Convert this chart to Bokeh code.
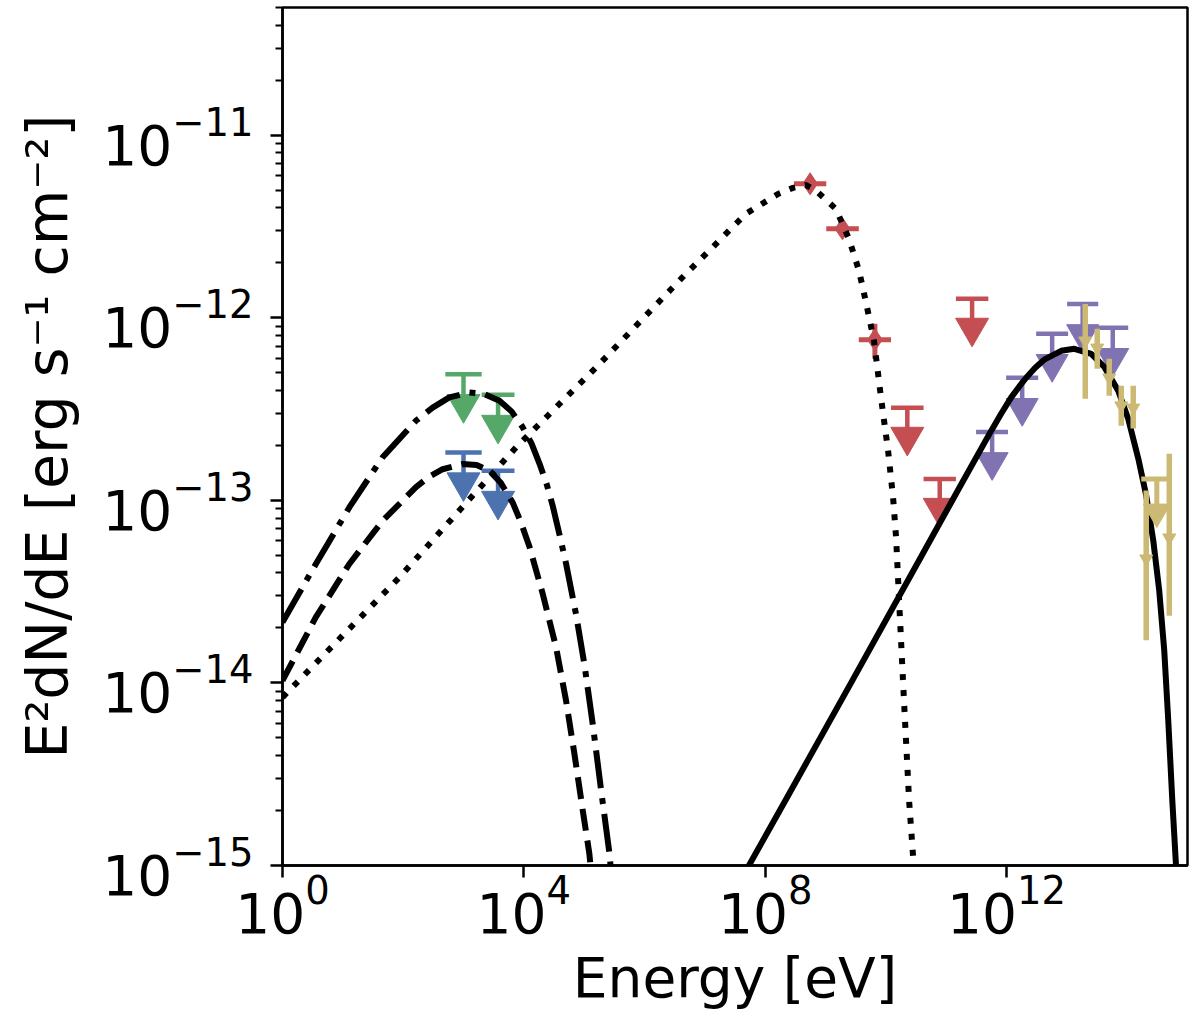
from bokeh.plotting import figure
from bokeh.models import FixedTicker, Range1d
from bokeh.embed import file_html
from bokeh.resources import INLINE

# ---------------- data ----------------
# model curves (energy in eV, E^2 dN/dE in erg s^-1 cm^-2)
dashdot_E = [1.0, 3.57, 12.8, 45.6, 163, 308, 583, 1250, 2160, 3940, 6300, 9580, 1.35e4,
             1.83e4, 2.40e4, 3.01e4, 3.94e4, 5.01e4, 7.34e4, 1.01e5, 1.39e5, 1.91e5,
             2.63e5, 2.87e5]
dashdot_F = [2.15e-14, 4.48e-14, 9.14e-14, 1.72e-13, 2.73e-13, 3.22e-13, 3.66e-13, 3.90e-13,
             3.83e-13, 3.51e-13, 3.06e-13, 2.51e-13, 2.04e-13, 1.58e-13, 1.22e-13, 9.33e-14,
             6.40e-14, 4.50e-14, 2.37e-14, 1.26e-14, 5.92e-15, 2.58e-15, 1.16e-15, 8.3e-16]

dashed_E = [1.0, 3.57, 12.8, 45.6, 163, 272, 451, 969, 1650, 2690, 4130, 6540, 8870,
            1.24e4, 2.06e4, 3.42e4, 5.01e4, 6.90e4, 9.48e4, 1.22e5, 1.34e5]
dashed_F = [1.03e-14, 2.29e-14, 4.48e-14, 7.73e-14, 1.18e-13, 1.35e-13, 1.48e-13, 1.58e-13,
            1.56e-13, 1.45e-13, 1.25e-13, 9.71e-14, 7.64e-14, 5.57e-14, 3.07e-14, 1.57e-14,
            8.0e-15, 4.08e-15, 2.0e-15, 1.16e-15, 8.3e-16]

dotted_E = [1.0, 86.3, 7410, 1.68e5, 4.01e6, 4.80e7, 1.63e8, 2.89e8, 4.74e8, 6.80e8, 9.44e8,
            1.49e9, 2.45e9, 3.59e9, 4.70e9, 6.37e9, 8.32e9, 1.09e10, 1.32e10, 1.48e10,
            1.66e10, 2.00e10, 2.43e10, 2.94e10]
dotted_F = [8.34e-15, 3.78e-14, 1.95e-13, 5.46e-13, 1.63e-12, 3.71e-12, 4.76e-12, 5.14e-12,
            5.33e-12, 5.00e-12, 4.53e-12, 3.94e-12, 2.70e-12, 1.81e-12, 1.21e-12, 7.48e-13,
            3.65e-13, 1.87e-13, 1.03e-13, 6.24e-14, 2.82e-14, 8.0e-15, 2.27e-15, 9.4e-16]

solid_E = [4.62e7, 5.38e7, 2.21e8, 2.65e9, 3.84e10, 1.77e11, 5.56e11, 8.15e11, 1.19e12,
           1.62e12, 2.12e12, 2.99e12, 4.21e12, 8.07e12, 1.33e13, 2.54e13, 4.17e13, 7.11e13,
           1.04e14, 1.53e14, 2.07e14, 2.71e14, 3.40e14, 4.12e14, 4.80e14, 5.60e14, 6.52e14]
solid_F = [9.2e-16, 1.0e-15, 2.30e-15, 1.00e-14, 4.91e-14, 1.22e-13, 2.40e-13, 2.98e-13,
           3.65e-13, 4.19e-13, 4.69e-13, 5.32e-13, 5.89e-13, 6.59e-13, 6.76e-13, 6.34e-13,
           5.38e-13, 3.98e-13, 2.80e-13, 1.69e-13, 1.06e-13, 6.01e-14, 3.20e-14, 1.50e-14,
           6.22e-15, 2.27e-15, 9.4e-16]

# X-ray upper limits (two bands)
xray_E = [1.0e3, 3.74e3]
xray_E_lo = [5.0e2, 2.0e3]
xray_E_hi = [2.0e3, 7.0e3]
xray_ul_green = [4.91e-13, 3.78e-13]
xray_ul_blue = [1.83e-13, 1.45e-13]

# GeV points
gev_E = [5.56e8, 1.91e9, 6.59e9]
gev_E_lo = [3.0e8, 1.03e9, 3.56e9]
gev_E_hi = [1.03e9, 3.56e9, 1.22e10]
gev_F = [5.41e-12, 3.07e-12, 7.57e-13]
gev_F_lo = [5.15e-12, 2.90e-12, 5.96e-13]
gev_F_hi = [5.70e-12, 3.25e-12, 9.27e-13]

# GeV upper limits
gev_ul_E = [2.27e10, 7.82e10, 2.69e11]
gev_ul_E_lo = [1.22e10, 4.22e10, 1.45e11]
gev_ul_E_hi = [4.22e10, 1.45e11, 5.0e11]
gev_ul = [3.21e-13, 1.31e-13, 1.27e-12]

# TeV upper limits (purple)
tev_ul_E = [5.78e11, 1.82e12, 5.71e12, 1.83e13, 5.77e13]
tev_ul_E_lo = [3.13e11, 9.86e11, 3.10e12, 1.01e13, 3.19e13]
tev_ul_E_hi = [1.06e12, 3.35e12, 1.05e13, 3.31e13, 1.04e14]
tev_ul = [2.37e-13, 4.69e-13, 8.17e-13, 1.19e-12, 8.81e-13]

# TeV/PeV points (gold)
uhe_E = [2.02e13, 3.19e13, 5.05e13, 7.98e13, 1.26e14, 2.07e14, 4.99e14]
uhe_F = [7.48e-13, 6.84e-13, 4.69e-13, 3.30e-13, 3.21e-13, 4.79e-14, 6.24e-14]
uhe_F_lo = [3.60e-13, 5.25e-13, 3.74e-13, 2.56e-13, 2.47e-13, 1.71e-14, 2.33e-14]
uhe_F_hi = [1.19e-12, 8.69e-13, 5.96e-13, 4.24e-13, 4.24e-13, 1.13e-13, 1.80e-13]
uhe_ul_E = [3.10e14]
uhe_ul_E_lo = [1.71e14]
uhe_ul_E_hi = [5.38e14]
uhe_ul = [1.31e-13]

x_ticks = [1e0, 1e4, 1e8, 1e12]
y_ticks = [1e-15, 1e-14, 1e-13, 1e-12, 1e-11]

# ---------------- styles ----------------
GREEN = "#55A868"
BLUE = "#4C72B0"
RED = "#C44E52"
PURPLE = "#8172B2"
GOLD = "#CCB974"
FONT = "DejaVu Sans"
FRAME_H = 858
PX_PER_DEX = FRAME_H / 4.69897  # frame height / decades shown

p = figure(x_axis_type="log", y_axis_type="log",
           x_range=Range1d(1e0, 1e15), y_range=Range1d(1e-15, 5e-11),
           frame_width=905, frame_height=FRAME_H,
           min_border_left=282, min_border_right=11, min_border_top=7, min_border_bottom=0,
           toolbar_location=None, output_backend="svg")
p.background_fill_color = "white"
p.border_fill_color = "white"
p.xgrid.visible = False
p.ygrid.visible = False
p.outline_line_color = "black"
p.outline_line_width = 2.5
p.outline_line_alpha = 1.0


def upper_limits(E, Elo, Ehi, UL, color, tri_size, arrow_px, lw=4.5):
    tri_y = [u * 10 ** (-arrow_px / PX_PER_DEX) for u in UL]
    p.segment(x0=Elo, y0=UL, x1=Ehi, y1=UL, line_color=color, line_width=lw)
    p.segment(x0=E, y0=UL, x1=E, y1=tri_y, line_color=color, line_width=lw)
    p.scatter(E, tri_y, marker="inverted_triangle", size=tri_size,
              fill_color=color, line_color=color, line_width=1)


# data below the model curves
upper_limits(xray_E, xray_E_lo, xray_E_hi, xray_ul_green, GREEN, 33, 30)
upper_limits(xray_E, xray_E_lo, xray_E_hi, xray_ul_blue, BLUE, 33, 30)

p.segment(x0=gev_E_lo, y0=gev_F, x1=gev_E_hi, y1=gev_F, line_color=RED, line_width=5)
p.segment(x0=gev_E, y0=gev_F_lo, x1=gev_E, y1=gev_F_hi, line_color=RED, line_width=5)
p.scatter(gev_E, gev_F, marker="diamond", size=22, fill_color=RED, line_color=RED)
upper_limits(gev_ul_E, gev_ul_E_lo, gev_ul_E_hi, gev_ul, RED, 33, 29)

upper_limits(tev_ul_E, tev_ul_E_lo, tev_ul_E_hi, tev_ul, PURPLE, 32, 30)

# model curves
p.line(dashdot_E, dashdot_F, line_color="black", line_width=6, line_dash="38 10 6 10")
p.line(dashed_E, dashed_F, line_color="black", line_width=6, line_dash="22 10")
p.line(dotted_E, dotted_F, line_color="black", line_width=6, line_dash="6 10")
p.line(solid_E, solid_F, line_color="black", line_width=6)

# gold points on top
p.segment(x0=uhe_E, y0=uhe_F_lo, x1=uhe_E, y1=uhe_F_hi, line_color=GOLD, line_width=5.5)
p.scatter(uhe_E, uhe_F, marker="inverted_triangle", size=13, fill_color=GOLD, line_color=GOLD)
upper_limits(uhe_ul_E, uhe_ul_E_lo, uhe_ul_E_hi, uhe_ul, GOLD, 27, 33, lw=5)

# axes
p.xaxis.ticker = FixedTicker(ticks=x_ticks, minor_ticks=[])
p.yaxis.ticker = FixedTicker(ticks=y_ticks,
                             minor_ticks=[m * t for t in y_ticks for m in range(2, 10)])
p.xaxis.axis_label = "Energy [eV]"
p.yaxis.axis_label = "E\u00b2dN/dE [erg s\u207b\u00b9 cm\u207b\u00b2]"

for ax in (p.xaxis[0], p.yaxis[0]):
    ax.major_label_text_font = FONT
    ax.major_label_text_font_size = "55px"
    ax.major_label_text_color = "black"
    ax.axis_label_text_font = FONT
    ax.axis_label_text_font_size = "55px"
    ax.axis_label_text_font_style = "normal"
    ax.axis_label_text_color = "black"
    ax.axis_line_color = "black"
    ax.axis_line_width = 2.5
    ax.major_tick_line_color = "black"
    ax.major_tick_line_width = 2.5
    ax.minor_tick_line_color = "black"
    ax.minor_tick_line_width = 2
    ax.major_tick_out = 12
    ax.major_tick_in = 0
    ax.minor_tick_out = 7
    ax.minor_tick_in = 0

p.yaxis.axis_label_text_font_size = "57px"
p.xaxis.major_label_standoff = -4
p.xaxis.axis_label_standoff = 10
p.yaxis.major_label_standoff = 17
p.yaxis.axis_label_standoff = 19

open("out.html", "w").write(file_html(p, INLINE))
